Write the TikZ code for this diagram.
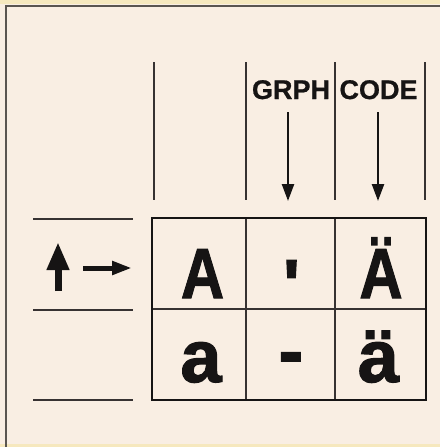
\documentclass[tikz,border=0pt]{standalone}
\usepackage{fontspec}
\setmainfont{Liberation Sans}[BoldFont={Liberation Sans Bold}]
\newfontfamily\heavysans{Liberation Sans Bold}[FakeBold=1.6]
\newfontfamily\labelsans{Liberation Sans Bold}[FakeBold=0.8]
\usetikzlibrary{arrows.meta}
\definecolor{paper}{RGB}{249,238,227}
\definecolor{paperedge}{RGB}{246,232,190}
\definecolor{inkc}{RGB}{22,20,20}
\definecolor{rulec}{RGB}{55,50,50}
\definecolor{framec}{RGB}{90,85,80}
\newcommand\narrowU[1]{\scalebox{0.84}[1]{#1}}
\tikzset{
  collabel/.style={font=\labelsans\fontsize{27}{27}\selectfont, text=inkc, inner sep=0pt, anchor=base},
  bigU/.style={font=\heavysans\fontsize{71}{71}\selectfont, text=inkc, inner sep=0pt, anchor=base},
  bigL/.style={font=\heavysans\fontsize{74}{74}\selectfont, text=inkc, inner sep=0pt, anchor=base},
  colrule/.style={draw=rulec, line width=1.3pt},
  siderule/.style={draw=rulec, line width=1.6pt},
  gridouter/.style={draw=inkc, line width=2.6pt},
  gridinner/.style={draw=rulec, line width=1.2pt},
  downarrow/.style={draw=inkc, line width=2.4pt, -{Triangle[length=17pt,width=12pt]}},
  uparrow/.style={draw=inkc, line width=7pt, -{Triangle[length=28pt,width=21pt]}},
  rightarrow/.style={draw=inkc, line width=5pt, -{Triangle[length=20pt,width=13pt]}}
}
\begin{document}
\begin{tikzpicture}[x=1pt,y=-1pt]
\fill[paper] (0,0) rectangle (440,447);
\useasboundingbox (0,0) rectangle (440,447);
\fill[paperedge] (0,0) rectangle (440,4);
\fill[paperedge] (0,444) rectangle (440,447);
% outer frame (top and left)
\coordinate (fbl) at (6,447);
\coordinate (ftl) at (6,6);
\coordinate (ftr) at (440,6);
\draw[draw=framec, line width=1.8pt] (fbl) -- (ftl) -- (ftr);
% column rules at top
\foreach \i/\x in {1/154,2/246,3/335,4/425}{
  \coordinate (ct\i) at (\x,62);
  \coordinate (cb\i) at (\x,200);
  \draw[colrule] (ct\i) -- (cb\i);
}
% column labels
\node[collabel] (grph) at (291,99) {GRPH};
\node[collabel] (code) at (378.5,99) {CODE};
\coordinate (ga1) at (288,112);
\coordinate (ga2) at (288,201);
\coordinate (ca1) at (378,112);
\coordinate (ca2) at (378,201);
\draw[downarrow] (ga1) -- (ga2);
\draw[downarrow] (ca1) -- (ca2);
% grid
\coordinate (g00) at (152,218);
\coordinate (g11) at (426,400);
\coordinate (v1t) at (246,218);
\coordinate (v1b) at (246,400);
\coordinate (v2t) at (335,218);
\coordinate (v2b) at (335,400);
\coordinate (hl) at (152,309);
\coordinate (hr) at (426,309);
\draw[gridinner] (v1t) -- (v1b);
\draw[gridinner] (v2t) -- (v2b);
\draw[gridinner] (hl) -- (hr);
\draw[gridouter] (g00) rectangle (g11);
% left side rules
\foreach \i/\y in {1/219,2/310,3/400}{
  \coordinate (ll\i) at (33,\y);
  \coordinate (lr\i) at (133,\y);
  \draw[siderule] (ll\i) -- (lr\i);
}
% shift arrows
\coordinate (ua1) at (58,291);
\coordinate (ua2) at (58,242);
\draw[uparrow] (ua1) -- (ua2);
\coordinate (ra1) at (83,268);
\coordinate (ra2) at (132,268);
\draw[rightarrow] (ra1) -- (ra2);
% characters
\node[bigU] (cA) at (202.5,298) {\narrowU{A}};
\node[bigU] (cTick) at (291.5,309) {\textquotesingle};
\node[bigU] (cAu) at (381,298) {\narrowU{Ä}};
\node[bigL] (ca) at (201,382) {a};
\node[bigL] (cDash) at (291,376) {-};
\node[bigL] (cau) at (378.5,382) {ä};
\end{tikzpicture}
\end{document}
